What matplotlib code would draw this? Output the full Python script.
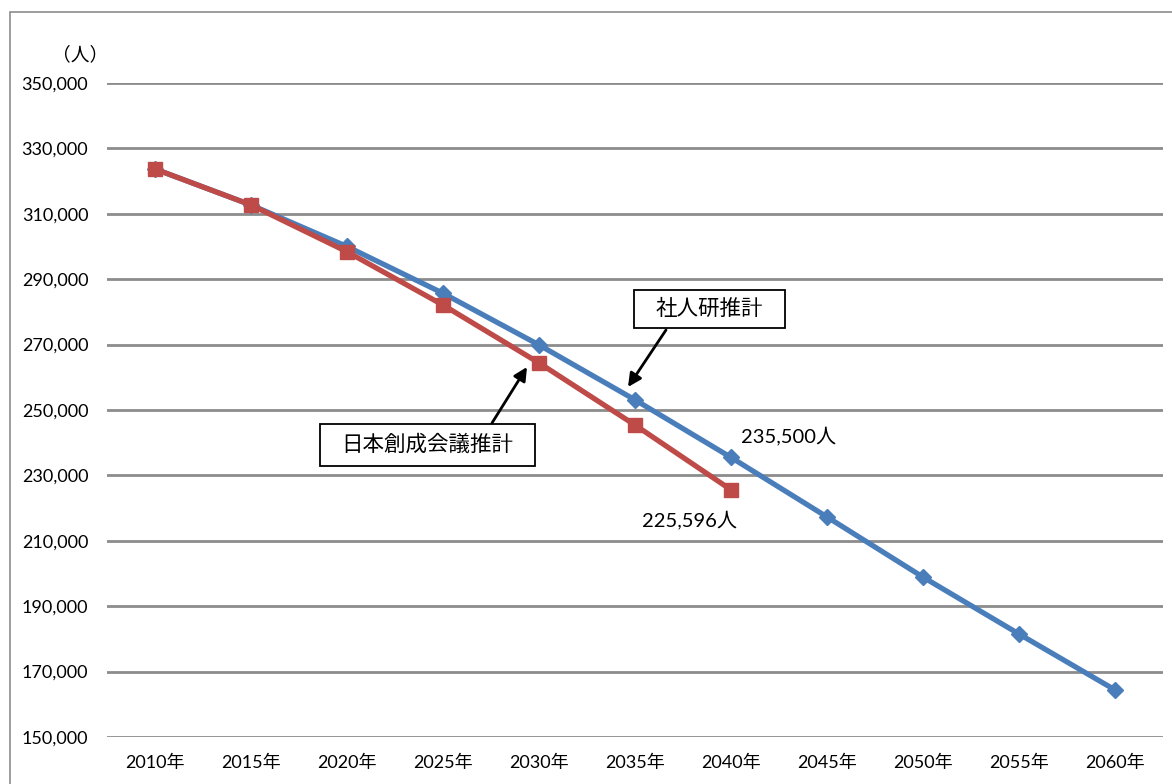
import matplotlib
matplotlib.use("Agg")
import matplotlib.pyplot as plt
from matplotlib.patches import Rectangle
from matplotlib.ticker import FuncFormatter

plt.rcParams['font.family'] = ['Lato', 'Noto Sans CJK JP', 'DejaVu Sans']
CJK = ['Noto Sans CJK JP', 'DejaVu Sans']

years = ["2010年", "2015年", "2020年", "2025年", "2030年", "2035年",
         "2040年", "2045年", "2050年", "2055年", "2060年"]
ipss = [323700, 312700, 300000, 285700, 269900, 253100,
        235500, 217300, 198900, 181500, 164400]
jpc = [323700, 312700, 298400, 282100, 264400, 245400, 225596]
yticks = [150000, 170000, 190000, 210000, 230000, 250000,
          270000, 290000, 310000, 330000, 350000]

W, H = 1172, 784
AX_L, AX_R, AX_T, AX_B = 107, 1163, 83, 737
fig = plt.figure(figsize=(W / 100, H / 100), dpi=100)
fig.patches.append(Rectangle((10 / W, -0.1), 1.2, (H - 12) / H + 0.1,
                             transform=fig.transFigure, fill=False,
                             edgecolor='#8c8c8c', linewidth=1.2))
ax = fig.add_axes([AX_L / W, 1 - AX_B / H, (AX_R - AX_L) / W, (AX_B - AX_T) / H])


def af(px, py):
    """pixel position (from top-left) -> axes fraction"""
    return ((px - AX_L) / (AX_R - AX_L), (AX_B - py) / (AX_B - AX_T))


x_all = list(range(len(years)))
ax.plot(x_all, ipss, color='#4A7EBB', linewidth=3.8, marker='D',
        markersize=8.5, zorder=3)
ax.plot(x_all[:len(jpc)], jpc, color='#BE4B48', linewidth=3.8, marker='s',
        markersize=10.5, zorder=4)

ax.set_xlim(-0.5, len(years) - 0.5)
ax.set_ylim(yticks[0], yticks[-1])
ax.set_yticks(yticks)
ax.yaxis.set_major_formatter(FuncFormatter(lambda v, p: f"{int(v):,}"))
ax.set_xticks(x_all)
ax.set_xticklabels(years)
ax.tick_params(axis='both', length=0, labelsize=13, colors='black')
ax.tick_params(axis='y', pad=13.5)
ax.tick_params(axis='x', pad=13)
ax.grid(axis='y', color='#8c8c8c', linewidth=2)
ax.set_axisbelow(True)
for s in ax.spines.values():
    s.set_visible(False)

fig.text(80 / W, 1 - 55 / H, "（人）", ha='center', va='center', fontsize=13.5,
         family=CJK)

# annotation boxes
for (x0, y0, x1, y1, label) in [(634, 290, 785, 328, "社人研推計"),
                                (320, 424, 535, 466, "日本創成会議推計")]:
    a0 = af(x0, y1)
    a1 = af(x1, y0)
    ax.add_patch(Rectangle(a0, a1[0] - a0[0], a1[1] - a0[1],
                           transform=ax.transAxes, facecolor='white',
                           edgecolor='black', linewidth=1.3, zorder=6))
    c = af((x0 + x1) / 2, (y0 + y1) / 2)
    ax.text(c[0], c[1], label, transform=ax.transAxes, ha='center',
            va='center', fontsize=15.5, family=CJK, zorder=7)

arrow = dict(arrowstyle='-|>', color='black', lw=2, mutation_scale=20,
             shrinkA=0, shrinkB=0)
ax.annotate("", xy=af(628, 387), xytext=af(666, 330),
            xycoords='axes fraction', textcoords='axes fraction',
            arrowprops=arrow, zorder=8)
ax.annotate("", xy=af(527, 367), xytext=af(492, 423),
            xycoords='axes fraction', textcoords='axes fraction',
            arrowprops=arrow, zorder=8)

ax.text(6.6, 242000, f"{ipss[6]:,}人", ha='center', va='center', fontsize=14.5)
ax.text(5.57, 216500, f"{jpc[6]:,}人", ha='center', va='center', fontsize=14.5)

fig.savefig("out.png", dpi=100)
